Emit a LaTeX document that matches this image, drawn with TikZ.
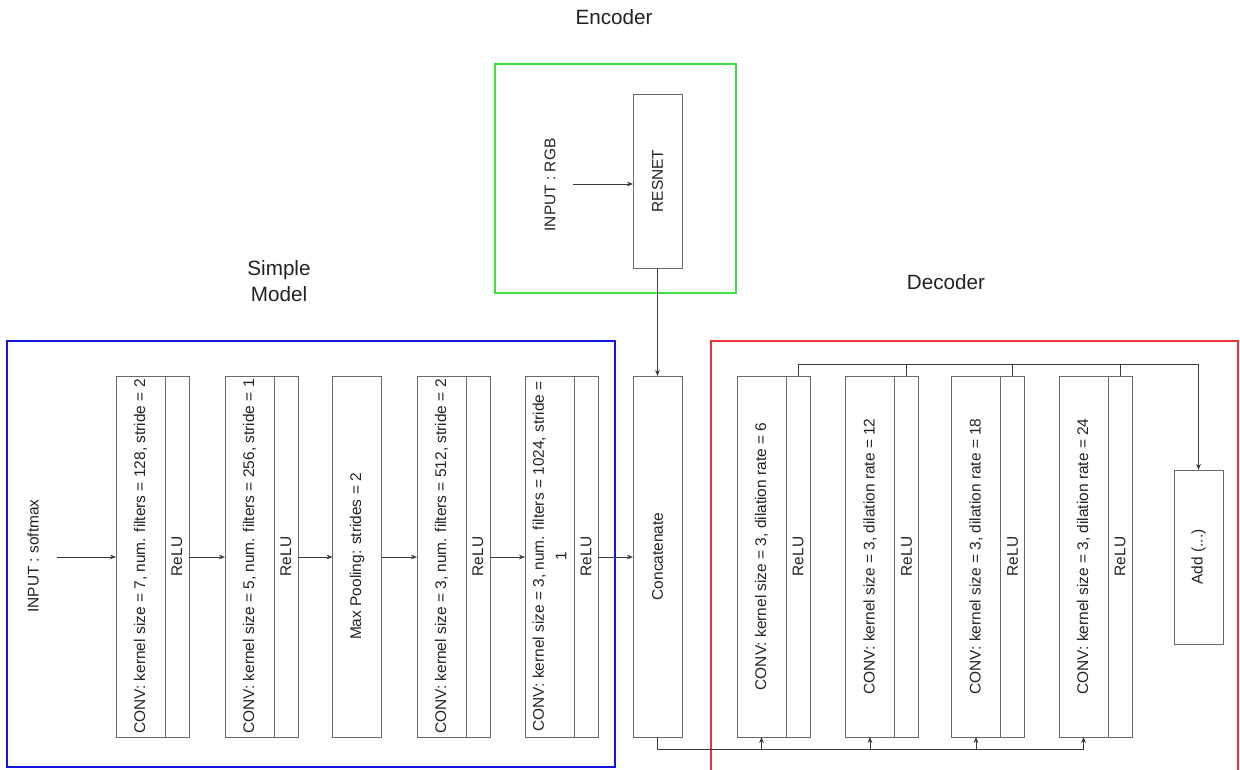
\documentclass[tikz,border=0pt]{standalone}
\usepackage{fontspec}
\setmainfont{Liberation Sans}
\usetikzlibrary{arrows.meta}

\definecolor{edge}{HTML}{6A6A6A}
\definecolor{wire}{HTML}{3A3A3A}
\definecolor{txt}{HTML}{222222}
\definecolor{simpleblue}{HTML}{1414E0}
\definecolor{encgreen}{HTML}{40E040}
\definecolor{decred}{HTML}{E83535}

\begin{document}
\begin{tikzpicture}[x=0.75pt,y=-0.75pt,
  every node/.style={inner sep=0pt, outer sep=0pt, text=txt,
    font=\fontsize{11.6pt}{17pt}\selectfont},
  box/.style={draw=edge, line width=0.6pt, minimum height=270.75pt},
  wide/.style={box, minimum width=36.75pt},
  narrow/.style={box, minimum width=18pt},
  short/.style={draw=edge, line width=0.6pt, minimum width=36.75pt, minimum height=130.5pt},
  vtext/.style={rotate=90, align=center},
  title/.style={font=\fontsize{15.5pt}{19pt}\selectfont, align=center},
  link/.style={draw=wire, line width=0.6pt},
  flow/.style={link, -{Stealth[length=4.5pt,width=3.5pt]}},
  frame/.style={line width=2.2pt}
]
\useasboundingbox (0,0) rectangle (1240,770);

% group frames
\draw[frame, draw=simpleblue] (7,341) rectangle (615,767);
\draw[frame, draw=encgreen] (495,64) rectangle (736,293);
\draw[frame, draw=decred] (711,341) rectangle (1238,800);

% group titles
\node[title] (enctitle) at (614,17) {Encoder};
\node[title] (simpletitle) at (279,281) {Simple\\Model};
\node[title] (dectitle) at (946,282) {Decoder};

% encoder
\node[short] (resnet) at (657.5,181) {};
\node[vtext] (resnett) at (resnet.center) {RESNET};
\node[vtext] (rgb) at (550,185) {INPUT : RGB};
\coordinate (rgbin) at (573,184);

% simple model
\node[vtext] (softmax) at (33,556) {INPUT : softmax};
\coordinate (smin) at (57,557);

\node[wide] (c1) at (140.5,556.5) {};
\node[narrow] (r1) at (177,556.5) {};
\node[vtext] at (c1.center) {CONV: kernel size = 7, num. filters = 128, stride = 2};
\node[vtext] at (r1.center) {ReLU};

\node[wide] (c2) at (249.5,556.5) {};
\node[narrow] (r2) at (286,556.5) {};
\node[vtext] at (c2.center) {CONV: kernel size = 5, num. filters = 256, stride = 1};
\node[vtext] at (r2.center) {ReLU};

\node[wide] (pool) at (357,556.5) {};
\node[vtext] at (pool.center) {Max Pooling: strides = 2};

\node[wide] (c3) at (441.5,556.5) {};
\node[narrow] (r3) at (478,556.5) {};
\node[vtext] at (c3.center) {CONV: kernel size = 3, num. filters = 512, stride = 2};
\node[vtext] at (r3.center) {ReLU};

\node[wide] (c4) at (549.5,556.5) {};
\node[narrow] (r4) at (586,556.5) {};
\node[vtext] at (c4.center) {CONV: kernel size = 3, num. filters = 1024, stride =\\1};
\node[vtext] at (r4.center) {ReLU};

\node[wide] (concat) at (657.5,556.5) {};
\node[vtext] at (concat.center) {Concatenate};

% decoder
\node[wide] (d1) at (761.5,556.5) {};
\node[narrow] (e1) at (798,556.5) {};
\node[vtext] at (d1.center) {CONV: kernel size = 3, dilation rate = 6};
\node[vtext] at (e1.center) {ReLU};

\node[wide] (d2) at (870,556.5) {};
\node[narrow] (e2) at (906.5,556.5) {};
\node[vtext] at (d2.center) {CONV: kernel size = 3, dilation rate = 12};
\node[vtext] at (e2.center) {ReLU};

\node[wide] (d3) at (976,556.5) {};
\node[narrow] (e3) at (1012.5,556.5) {};
\node[vtext] at (d3.center) {CONV: kernel size = 3, dilation rate = 18};
\node[vtext] at (e3.center) {ReLU};

\node[wide] (d4) at (1083.5,556.5) {};
\node[narrow] (e4) at (1120,556.5) {};
\node[vtext] at (d4.center) {CONV: kernel size = 3, dilation rate = 24};
\node[vtext] at (e4.center) {ReLU};

\node[short] (add) at (1198.5,557) {};
\node[vtext] at (add.center) {Add (...)};

% connectors
\draw[flow] (rgbin) -- (rgbin -| resnet.west);
\draw[flow] (resnet.south) -- (concat.north);
\draw[flow] (smin) -- (smin -| c1.west);
\draw[flow] (r1.east |- smin) -- (smin -| c2.west);
\draw[flow] (r2.east |- smin) -- (smin -| pool.west);
\draw[flow] (pool.east |- smin) -- (smin -| c3.west);
\draw[flow] (r3.east |- smin) -- (smin -| c4.west);
\draw[flow] (r4.east |- smin) -- (smin -| concat.west);

% shared input bus below the decoder branches
\coordinate (lowbus) at (0,749);
\draw[link] (concat.south) |- (d4.south |- lowbus);
\foreach \b in {d1,d2,d3,d4}
  \draw[flow] (\b.south |- lowbus) -- (\b.south);

% output bus above the decoder branches
\coordinate (highbus) at (0,364);
\draw[flow] (e1.north) |- (add.north |- highbus) -- (add.north);
\foreach \b in {e2,e3,e4}
  \draw[link] (\b.north) -- (\b.north |- highbus);
\end{tikzpicture}
\end{document}
